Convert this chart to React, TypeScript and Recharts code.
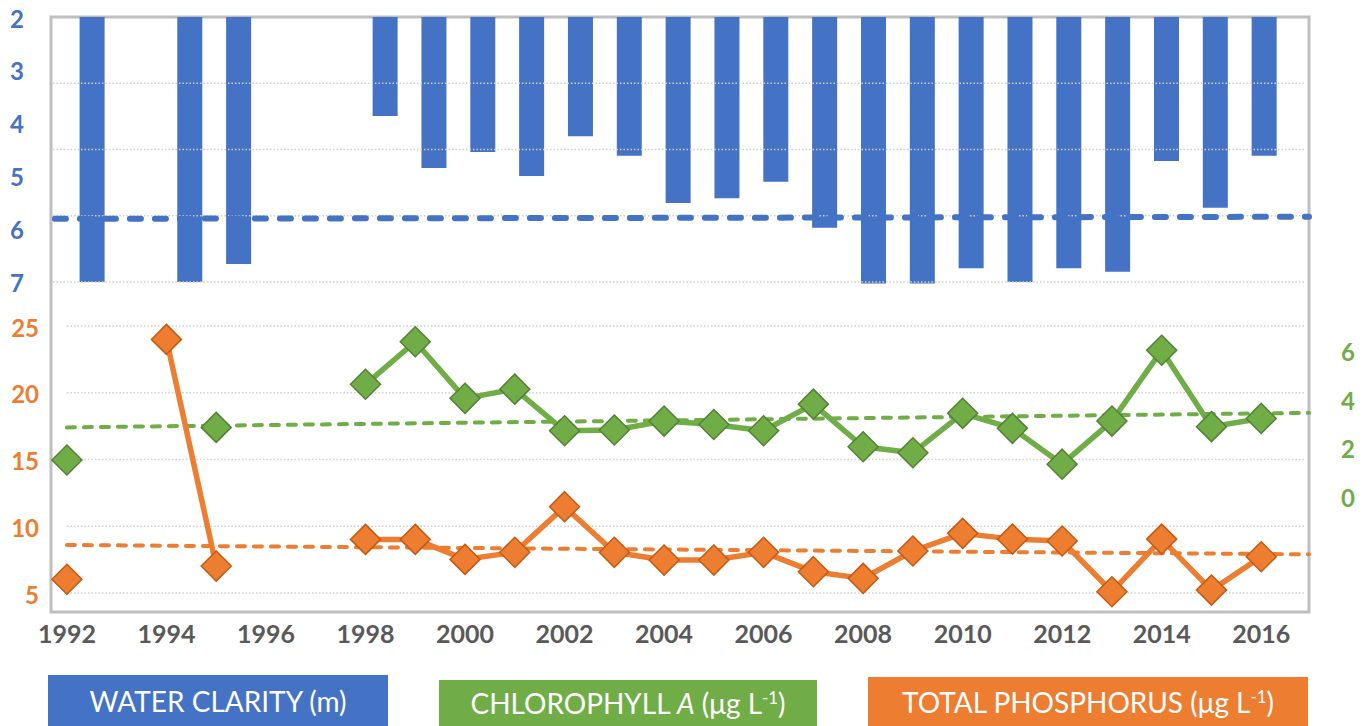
import React from 'react';
import { ComposedChart, Bar, Line, XAxis, YAxis, ReferenceLine, ReferenceArea } from 'recharts';

const years = [1992, 1993, 1994, 1995, 1996, 1997, 1998, 1999, 2000, 2001, 2002, 2003, 2004, 2005, 2006, 2007, 2008, 2009, 2010, 2011, 2012, 2013, 2014, 2015, 2016];
const clarity = [7.0, null, 7.0, 6.66, null, null, 3.87, 4.85, 4.55, 5.0, 4.25, 4.62, 5.51, 5.42, 5.11, 5.98, 7.03, 7.03, 6.74, 7.0, 6.74, 6.81, 4.72, 5.6, 4.62];
const chlorophyll = [1.53, null, null, 2.88, null, null, 4.66, 6.42, 4.08, 4.46, 2.74, 2.77, 3.14, 3.0, 2.74, 3.84, 2.08, 1.83, 3.46, 2.84, 1.36, 3.14, 6.07, 2.91, 3.25];
const phosphorus = [6.03, null, 24.0, 7.02, null, null, 9.02, 9.02, 7.52, 8.05, 11.47, 8.05, 7.47, 7.47, 8.05, 6.6, 6.1, 8.15, 9.47, 9.04, 8.9, 5.1, 9.04, 5.22, 7.72];

const yearTicks = [1992, 1994, 1996, 1998, 2000, 2002, 2004, 2006, 2008, 2010, 2012, 2014, 2016];
const clarityTicks = [2, 3, 4, 5, 6, 7];
const phosphorusTicks = [5, 10, 15, 20, 25];
const chlorophyllTicks = [0, 2, 4, 6];
const clarityGrid = [3.25, 4.5, 5.75, 7];

// trend lines: [start, end] values
const clarityTrendYears = [1991.24, 2016.92];
const clarityTrend = [5.81, 5.77];
const lineTrendYears = [1992, 2016.96];
const chlorophyllTrend = [2.88, 3.48];
const phosphorusTrend = [8.6, 7.9];

const BAR_DOMAIN: [number, number] = [1991.16, 2016.92];
const LINE_DOMAIN: [number, number] = [1991.68, 2016.96];
const CLARITY_DOMAIN: [number, number] = [2, 13.23];
const TP_DOMAIN: [number, number] = [3.58, 48.15];
const CHL_DOMAIN: [number, number] = [-4.75, 19.84];

const BLUE = '#4472C4';
const GREEN = '#70AD47';
const GREEN_DARK = '#548235';
const ORANGE = '#ED7D31';
const ORANGE_DARK = '#C55A11';
const GRID = '#d0d0d0';
const FONT = 'Lato, "Open Sans", sans-serif';

const data = years.map((year, i) => ({
  year,
  clarity: clarity[i],
  chl: chlorophyll[i],
  tp: phosphorus[i],
}));

const makeDiamond = (fill: string, stroke: string) => (props: any) => {
  const { cx, cy, value, index } = props;
  if (value == null || cx == null || cy == null || isNaN(cy)) return <g key={`d${index}`} />;
  const r = 15;
  return (
    <polygon
      key={`d${index}`}
      points={`${cx},${cy - r} ${cx + r},${cy} ${cx},${cy + r} ${cx - r},${cy}`}
      fill={fill}
      stroke={stroke}
      strokeWidth={1.5}
    />
  );
};

const ClarityTick = (props: any) => (
  <text x={10} y={props.y + 1} fill={BLUE} fontSize={24} fontWeight={700} fontFamily={FONT} textAnchor="start" dominantBaseline="central">
    {props.payload.value}
  </text>
);
const TpTick = (props: any) => (
  <text x={39} y={props.y + 1} fill={ORANGE} fontSize={24} fontWeight={700} fontFamily={FONT} textAnchor="end" dominantBaseline="central">
    {props.payload.value}
  </text>
);
const ChlTick = (props: any) => (
  <text x={1348} y={props.y} fill={GREEN} fontSize={24} fontWeight={700} fontFamily={FONT} textAnchor="middle" dominantBaseline="central">
    {props.payload.value}
  </text>
);
const YearTick = (props: any) => (
  <text x={props.x} y={633} fill="#595959" fontSize={25} fontWeight={700} fontFamily={FONT} textAnchor="middle" dominantBaseline="central">
    {props.payload.value}
  </text>
);

const legendItems = [
  { key: 'wc', color: BLUE, left: 48, top: 675, width: 340, content: <>WATER CLARITY (m)</> },
  { key: 'chl', color: GREEN, left: 439, top: 680, width: 378, content: <>CHLOROPHYLL <i>A</i> (μg L<sup style={{ fontSize: '0.6em' }}>-1</sup>)</> },
  { key: 'tp', color: ORANGE, left: 868, top: 677, width: 440, content: <>TOTAL PHOSPHORUS (μg L<sup style={{ fontSize: '0.6em' }}>-1</sup>)</> },
];

export default function App() {
  return (
    <div style={{ position: 'absolute', left: 0, top: 0, width: 1372, height: 726, background: '#fff', overflow: 'hidden' }}>
      <ComposedChart width={1372} height={726} data={data} margin={{ top: 17, right: 23, bottom: 74, left: 11 }}>
        <XAxis xAxisId="bar" type="number" dataKey="year" domain={BAR_DOMAIN} allowDataOverflow hide />
        <XAxis
          xAxisId="line"
          type="number"
          dataKey="year"
          domain={LINE_DOMAIN}
          allowDataOverflow
          ticks={yearTicks}
          interval={0}
          axisLine={false}
          tickLine={false}
          height={40}
          tick={<YearTick />}
        />
        <YAxis yAxisId="clarity" reversed domain={CLARITY_DOMAIN} allowDataOverflow ticks={clarityTicks} interval={0} width={20} axisLine={false} tickLine={false} tick={<ClarityTick />} />
        <YAxis yAxisId="tp" domain={TP_DOMAIN} allowDataOverflow ticks={phosphorusTicks} interval={0} width={20} axisLine={false} tickLine={false} tick={<TpTick />} />
        <YAxis yAxisId="chl" orientation="right" domain={CHL_DOMAIN} allowDataOverflow ticks={chlorophyllTicks} interval={0} width={40} axisLine={false} tickLine={false} tick={<ChlTick />} />

        {clarityGrid.map((v) => (
          <ReferenceLine
            key={`cg${v}`}
            xAxisId="bar"
            yAxisId="clarity"
            segment={[{ x: 1991.2, y: v }, { x: 2016.84, y: v }]}
            stroke={GRID}
            strokeWidth={1.5}
            strokeDasharray="1.5 2"
          />
        ))}
        {phosphorusTicks.map((v) => (
          <ReferenceLine
            key={`tg${v}`}
            xAxisId="line"
            yAxisId="tp"
            segment={[{ x: 1992, y: v }, { x: 2016.88, y: v }]}
            stroke={GRID}
            strokeWidth={1.5}
            strokeDasharray="1.5 2"
          />
        ))}

        <Bar xAxisId="bar" yAxisId="clarity" dataKey="clarity" fill={BLUE} barSize={25} isAnimationActive={false} />

        <ReferenceLine
          xAxisId="bar"
          yAxisId="clarity"
          segment={[{ x: clarityTrendYears[0], y: clarityTrend[0] }, { x: clarityTrendYears[1], y: clarityTrend[1] }]}
          stroke={BLUE}
          strokeWidth={6}
          strokeDasharray="11 14"
          strokeLinecap="round"
        />
        <ReferenceLine
          xAxisId="line"
          yAxisId="chl"
          segment={[{ x: lineTrendYears[0], y: chlorophyllTrend[0] }, { x: lineTrendYears[1], y: chlorophyllTrend[1] }]}
          stroke={GREEN}
          strokeWidth={4}
          strokeDasharray="8 9"
          strokeLinecap="round"
        />
        <ReferenceLine
          xAxisId="line"
          yAxisId="tp"
          segment={[{ x: lineTrendYears[0], y: phosphorusTrend[0] }, { x: lineTrendYears[1], y: phosphorusTrend[1] }]}
          stroke={ORANGE}
          strokeWidth={4}
          strokeDasharray="8 9"
          strokeLinecap="round"
        />

        <Line
          xAxisId="line"
          yAxisId="tp"
          dataKey="tp"
          stroke={ORANGE}
          strokeWidth={5.5}
          strokeLinejoin="round"
          dot={makeDiamond(ORANGE, ORANGE_DARK)}
          activeDot={false}
          isAnimationActive={false}
        />
        <Line
          xAxisId="line"
          yAxisId="chl"
          dataKey="chl"
          stroke={GREEN}
          strokeWidth={5.5}
          strokeLinejoin="round"
          dot={makeDiamond(GREEN, GREEN_DARK)}
          activeDot={false}
          isAnimationActive={false}
        />

        <ReferenceArea
          xAxisId="bar"
          yAxisId="clarity"
          x1={BAR_DOMAIN[0]}
          x2={BAR_DOMAIN[1]}
          y1={CLARITY_DOMAIN[0]}
          y2={CLARITY_DOMAIN[1]}
          fill="none"
          fillOpacity={0}
          stroke="#bfbfbf"
          strokeWidth={3}
        />
      </ComposedChart>
      {legendItems.map((it) => (
        <div
          key={it.key}
          style={{
            position: 'absolute',
            left: it.left,
            top: it.top,
            width: it.width,
            height: 726 - it.top,
            background: it.color,
            color: '#fff',
            fontFamily: FONT,
            fontSize: 28,
            display: 'flex',
            alignItems: 'center',
            justifyContent: 'center',
            whiteSpace: 'nowrap',
          }}
        >
          <span>{it.content}</span>
        </div>
      ))}
    </div>
  );
}
